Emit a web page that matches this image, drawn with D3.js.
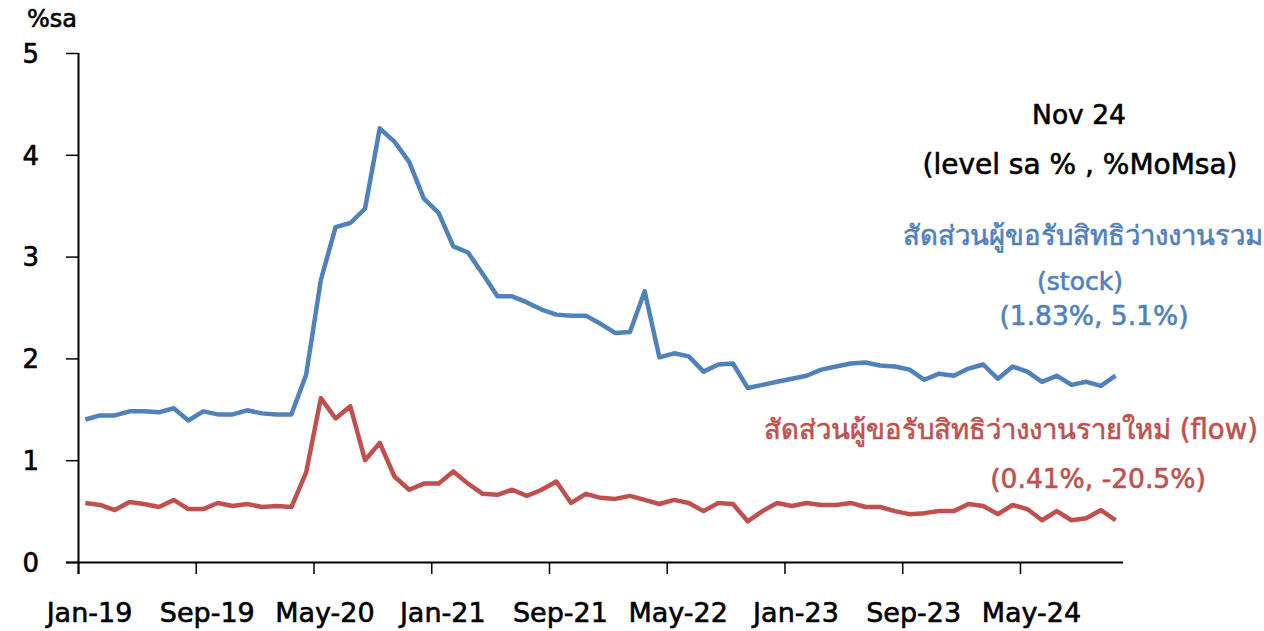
<!DOCTYPE html>
<html>
<head>
<meta charset="utf-8">
<script src="https://cdn.jsdelivr.net/npm/d3@7"></script>
<style>
  body { margin: 0; background: #fff; }
  svg text { font-family: "DejaVu Sans", "Noto Sans", sans-serif; stroke-width: 0.6px; }
</style>
</head>
<body>
<svg></svg>
<script>
  // monthly, Jan-19 .. Nov-24
  let months = d3.timeMonth.range(new Date(2019, 0, 1), new Date(2024, 11, 1))
  let tickLabels = ['Jan-19', 'Sep-19', 'May-20', 'Jan-21', 'Sep-21', 'May-22', 'Jan-23', 'Sep-23', 'May-24']
  let yTicks = [0, 1, 2, 3, 4, 5]

  // สัดส่วนผู้ขอรับสิทธิว่างงานรวม (stock)
  let stock = [1.40, 1.44, 1.44, 1.48, 1.48, 1.47, 1.51, 1.39, 1.48, 1.45, 1.45, 1.49, 1.46, 1.45, 1.45,
    1.84, 2.77, 3.29, 3.33, 3.47, 4.26, 4.13, 3.93, 3.57, 3.43, 3.10, 3.04, 2.83, 2.61, 2.61,
    2.55, 2.48, 2.43, 2.42, 2.42, 2.34, 2.25, 2.26, 2.66, 2.01, 2.05, 2.02, 1.87, 1.94, 1.95,
    1.71, 1.74, 1.77, 1.80, 1.83, 1.89, 1.92, 1.95, 1.96, 1.93, 1.92, 1.89, 1.79, 1.85, 1.83,
    1.90, 1.94, 1.80, 1.92, 1.87, 1.77, 1.83, 1.74, 1.77, 1.73, 1.83]

  // สัดส่วนผู้ขอรับสิทธิว่างงานรายใหม่ (flow)
  let flow = [0.58, 0.56, 0.51, 0.59, 0.57, 0.54, 0.61, 0.52, 0.52, 0.58, 0.55, 0.57, 0.54, 0.55, 0.54,
    0.88, 1.61, 1.41, 1.53, 1.00, 1.17, 0.84, 0.71, 0.77, 0.77, 0.89, 0.77, 0.67, 0.66, 0.71,
    0.65, 0.71, 0.79, 0.58, 0.67, 0.63, 0.62, 0.65, 0.61, 0.57, 0.61, 0.58, 0.50, 0.58, 0.57,
    0.40, 0.50, 0.58, 0.55, 0.58, 0.56, 0.56, 0.58, 0.54, 0.54, 0.50, 0.47, 0.48, 0.50, 0.50,
    0.57, 0.55, 0.47, 0.56, 0.52, 0.41, 0.50, 0.41, 0.43, 0.51, 0.41]

  let svgWidth = 1264, svgHeight = 631
  let blue = '#4F81BD', red = '#C0504D'

  let svg = d3.select('svg')
    .attr('width', svgWidth)
    .attr('height', svgHeight)

  // categories are bands, points sit in the middle
  let x = d3.scaleLinear().domain([0, months.length]).range([78, 1123])
  let y = d3.scaleLinear().domain([0, 5]).range([562, 53])

  let xAxis = svg.append('g')
    .attr('transform', `translate(0,${y(0)})`)
    .call(d3.axisBottom(x)
      .tickValues(tickLabels.map((d, i) => i * 8))
      .tickFormat((d, i) => tickLabels[i])
      .tickSize(12)
      .tickSizeOuter(0))
  xAxis.select('.domain').attr('d', `M66,0.5H${x(months.length)}`).attr('stroke', '#000').attr('stroke-width', 2)
  xAxis.selectAll('line').attr('stroke-width', 1.5)
  // labels sit a bit right of the tick, like the original
  xAxis.selectAll('text')
    .attr('x', 11)
    .attr('y', 60)
    .attr('dy', 0)
    .attr('font-size', 27)
    .attr('fill', '#000')
    .attr('stroke', '#000')

  let yAxis = svg.append('g')
    .attr('transform', `translate(${x(0)},0)`)
    .call(d3.axisLeft(y).tickValues(yTicks).tickFormat(d3.format('d')).tickSize(12).tickSizeOuter(0))
  yAxis.select('.domain').attr('d', `M0.5,${y(5)}V${y(0) + 12}`).attr('stroke', '#000').attr('stroke-width', 2)
  yAxis.selectAll('line').attr('stroke-width', 1.5)
  yAxis.selectAll('text')
    .attr('x', -39)
    .attr('dy', '0.36em')
    .attr('font-size', 26)
    .attr('fill', '#000')
    .attr('stroke', '#000')

  svg.append('text')
    .attr('x', 27).attr('y', 27)
    .attr('font-size', 24)
    .attr('stroke', '#000')
    .text('%sa')

  let line = d3.line()
    .x((d, i) => x(i + 0.5))
    .y(d => y(d))

  svg.append('path')
    .datum(stock)
    .attr('d', line)
    .attr('fill', 'none')
    .attr('stroke', blue)
    .attr('stroke-width', 4.5)
    .attr('stroke-linejoin', 'round')

  svg.append('path')
    .datum(flow)
    .attr('d', line)
    .attr('fill', 'none')
    .attr('stroke', red)
    .attr('stroke-width', 4.5)
    .attr('stroke-linejoin', 'round')

  // annotations
  let notes = [
    { t: 'Nov 24', x: 1079, y: 124, c: '#000', s: 26.5 },
    { t: '(level sa % , %MoMsa)', x: 1080, y: 174, c: '#000', s: 28 },
    { t: 'สัดส่วนผู้ขอรับสิทธิว่างงานรวม', x: 1083, y: 245, c: blue, s: 27.5 },
    { t: '(stock)', x: 1080, y: 290, c: blue, s: 25 },
    { t: '(1.83%, 5.1%)', x: 1094, y: 325, c: blue, s: 26.5 },
    { t: 'สัดส่วนผู้ขอรับสิทธิว่างงานรายใหม่ (flow)', x: 1011, y: 439, c: red, s: 27.5 },
    { t: '(0.41%, -20.5%)', x: 1098, y: 488, c: red, s: 26.5 }
  ]
  svg.selectAll('.note')
    .data(notes)
    .enter()
    .append('text')
    .attr('class', 'note')
    .attr('x', d => d.x)
    .attr('y', d => d.y)
    .attr('text-anchor', 'middle')
    .attr('font-size', d => d.s)
    .attr('fill', d => d.c)
    .attr('stroke', d => d.c)
    .text(d => d.t)
</script>
</body>
</html>
